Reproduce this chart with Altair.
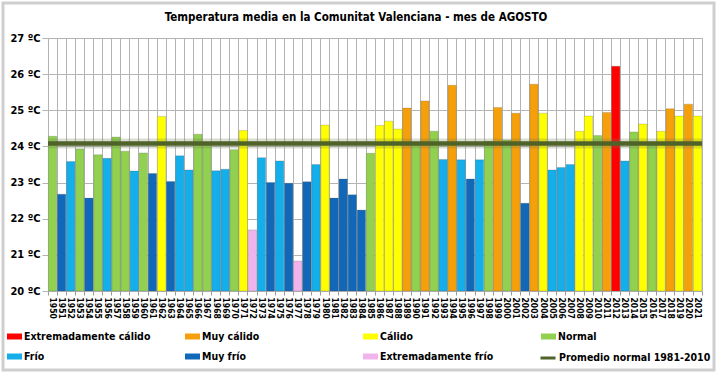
import altair as alt
import pandas as pd

years = [1950, 1951, 1952, 1953, 1954, 1955, 1956, 1957, 1958, 1959,
         1960, 1961, 1962, 1963, 1964, 1965, 1966, 1967, 1968, 1969,
         1970, 1971, 1972, 1973, 1974, 1975, 1976, 1977, 1978, 1979,
         1980, 1981, 1982, 1983, 1984, 1985, 1986, 1987, 1988, 1989,
         1990, 1991, 1992, 1993, 1994, 1995, 1996, 1997, 1998, 1999,
         2000, 2001, 2002, 2003, 2004, 2005, 2006, 2007, 2008, 2009,
         2010, 2011, 2012, 2013, 2014, 2015, 2016, 2017, 2018, 2019,
         2020, 2021]

temps = [24.28, 22.68, 23.58, 23.93, 22.57, 23.77, 23.67, 24.26, 23.87, 23.32,
         23.82, 23.25, 24.83, 23.03, 23.74, 23.35, 24.34, 24.07, 23.33, 23.37,
         23.91, 24.44, 21.69, 23.69, 23.00, 23.60, 22.98, 20.83, 23.02, 23.50,
         24.59, 22.57, 23.10, 22.66, 22.24, 23.81, 24.58, 24.70, 24.48, 25.06,
         24.11, 25.26, 24.42, 23.64, 25.69, 23.63, 23.10, 23.63, 24.14, 25.08,
         24.18, 24.92, 22.43, 25.72, 24.92, 23.35, 23.42, 23.50, 24.42, 24.84,
         24.30, 24.94, 26.22, 23.60, 24.40, 24.62, 24.09, 24.42, 25.04, 24.84,
         25.17, 24.84]

codes = ["N", "MF", "F", "N", "MF", "N", "F", "N", "N", "F",
         "N", "MF", "C", "MF", "F", "F", "N", "N", "F", "F",
         "N", "C", "EF", "F", "MF", "F", "MF", "EF", "MF", "F",
         "C", "MF", "MF", "MF", "MF", "N", "C", "C", "C", "MC",
         "N", "MC", "N", "F", "MC", "F", "MF", "F", "N", "MC",
         "N", "MC", "MF", "MC", "C", "F", "F", "F", "C", "C",
         "N", "MC", "EC", "F", "N", "C", "N", "C", "MC", "C",
         "MC", "C"]

code_names = {"EC": "Extremadamente cálido", "MC": "Muy cálido", "C": "Cálido",
              "N": "Normal", "F": "Frío", "MF": "Muy frío", "EF": "Extremadamente frío"}

cat_domain = ["Extremadamente cálido", "Muy cálido", "Cálido", "Normal",
              "Frío", "Muy frío", "Extremadamente frío"]
cat_colors = ["#ff0000", "#f5a00a", "#ffff00", "#92d050",
              "#14aeea", "#1268b8", "#f0b4ec"]

normal_value = [24.08]
normal_label = ["Promedio normal 1981-2010"]
normal_color = ["#4f6228"]

y_ticks = [20, 21, 22, 23, 24, 25, 26, 27]

title_text = ["Temperatura media en la Comunitat Valenciana - mes de AGOSTO"]

FONT = "DejaVu Sans Condensed, DejaVu Sans"

df = pd.DataFrame({
    "year": [str(y) for y in years],
    "temp": temps,
    "cat": [code_names[c] for c in codes],
})
df_norm = pd.DataFrame({"temp": normal_value, "serie": normal_label})
df_frame = pd.DataFrame({"a": [0]})
df_title = pd.DataFrame({"t": title_text})

y_scale = alt.Scale(domain=[20, 27], nice=False, zero=False)
y_axis = alt.Axis(values=y_ticks, labelExpr="datum.value + ' ºC'", title=None,
                  grid=True, gridColor="#b4b4b4", tickSize=6, tickColor="#b4b4b4",
                  domain=False, labelFontWeight="bold", labelFontSize=11,
                  labelFont=FONT, labelColor="#000", labelPadding=2,
                  labelOverlap=False, labelFlush=False)
y_enc = alt.Y("temp:Q", scale=y_scale, axis=y_axis)

x_enc = alt.X("year:O", scale=alt.Scale(paddingInner=0.08, paddingOuter=0.04),
              axis=alt.Axis(title=None, labelAngle=90, labelFontSize=8.5,
                            labelFontWeight="bold", labelFont=FONT, labelColor="#000",
                            tickBand="extent", grid=True, gridColor="#b4b4b4",
                            tickColor="#999", tickSize=4, domain=False, labelPadding=2))

bars = alt.Chart(df).mark_bar(stroke="#555", strokeWidth=0.5, strokeOpacity=0.45).encode(
    x=x_enc,
    y=y_enc,
    y2=alt.datum(20),
    color=alt.Color("cat:N", scale=alt.Scale(domain=cat_domain, range=cat_colors),
                    legend=alt.Legend(orient="none", legendX=-41, legendY=291, columns=4,
                                      direction="horizontal",
                                      gridAlign="all", columnPadding=34, rowPadding=7,
                                      title=None, symbolType="M-1,-0.4L1,-0.4L1,0.4L-1,0.4Z",
                                      symbolSize=225, symbolStrokeWidth=0,
                                      labelFont=FONT, labelFontSize=10.5,
                                      labelFontWeight="bold", labelColor="#000",
                                      labelOffset=2)),
)

halo = alt.Chart(df_norm).mark_rule(strokeWidth=10, opacity=0.25, color="#6b7a4a").encode(
    y=y_enc
)
line = alt.Chart(df_norm).mark_rule(strokeWidth=4.5).encode(
    y=y_enc,
    stroke=alt.Stroke("serie:N", scale=alt.Scale(domain=normal_label, range=normal_color),
                      legend=alt.Legend(orient="none", legendX=491, legendY=311, title=None,
                                        symbolType="stroke", symbolSize=225,
                                        symbolStrokeWidth=3,
                                        labelFont=FONT, labelFontSize=10.5,
                                        labelFontWeight="bold", labelColor="#000",
                                        labelOffset=2, labelLimit=200)),
)

frame = alt.Chart(df_frame).mark_rect(fillOpacity=0, stroke="#cfcfcf", strokeWidth=3).encode(
    x=alt.value(-45), x2=alt.value(666), y=alt.value(-35), y2=alt.value(332)
)

title = alt.Chart(df_title).mark_text(font=FONT, fontSize=11.5, fontWeight="bold",
                                      color="#000", align="center", baseline="middle").encode(
    text="t:N", x=alt.value(308), y=alt.value(-20)
)

chart = alt.layer(frame, bars, halo, line, title).properties(
    width=654, height=253,
    autosize=alt.AutoSizeParams(type="none"),
    padding={"left": 48, "top": 38, "right": 17, "bottom": 85},
).configure_view(stroke="#b4b4b4").configure(background="white")

chart.save("out.html", embed_options={"renderer": "svg", "actions": False})
